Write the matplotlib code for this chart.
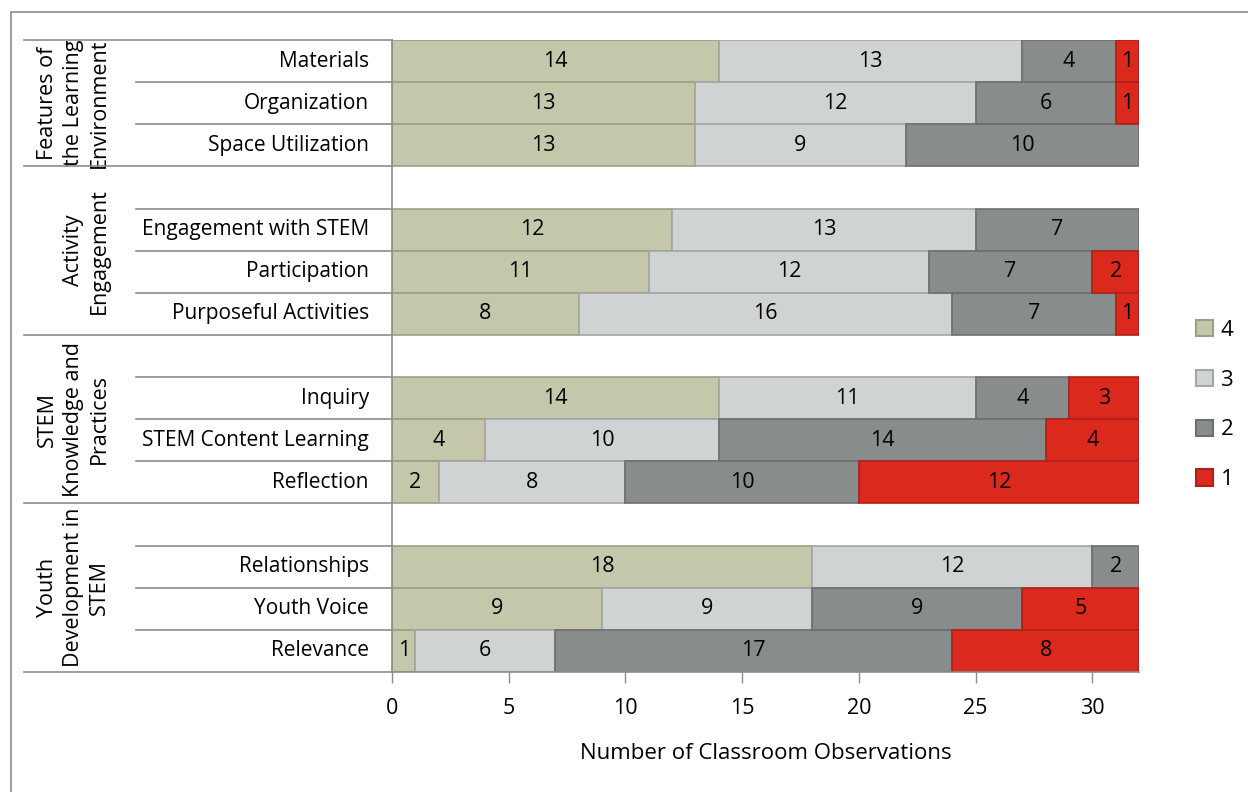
import numpy as np
import matplotlib.pyplot as plt
from matplotlib.patches import Patch, Rectangle
from matplotlib.lines import Line2D
from matplotlib.transforms import blended_transform_factory

plt.rcParams['font.family'] = ['Open Sans', 'DejaVu Sans']

# --- data (rows top to bottom) ---
group_names = ["Features of\nthe Learning\nEnvironment",
               "Activity\nEngagement",
               "STEM\nKnowledge and\nPractices",
               "Youth\nDevelopment in\nSTEM"]
group_items = [["Materials", "Organization", "Space Utilization"],
               ["Engagement with STEM", "Participation", "Purposeful Activities"],
               ["Inquiry", "STEM Content Learning", "Reflection"],
               ["Relationships", "Youth Voice", "Relevance"]]

score4 = [14, 13, 13, 12, 11, 8, 14, 4, 2, 18, 9, 1]
score3 = [13, 12, 9, 13, 12, 16, 11, 10, 8, 12, 9, 6]
score2 = [4, 6, 10, 7, 7, 7, 4, 14, 10, 2, 9, 17]
score1 = [1, 1, 0, 0, 2, 1, 3, 4, 12, 0, 5, 8]

score_labels = ["4", "3", "2", "1"]
face_colors = ["#c4c7a9", "#d0d3d4", "#898c8d", "#dc291e"]
edge_colors = ["#9c9e87", "#a3a5a6", "#6c6e6f", "#b0201a"]

# row positions: a blank row in front of every group except the first
positions, labels, group_spans = [], [], []
row = 0
for g, items in enumerate(group_items):
    start = row - 0.5
    if g > 0:
        row += 1
    for it in items:
        positions.append(row)
        labels.append(it)
        row += 1
    group_spans.append((start, row - 0.5))
n_rows = row

fig = plt.figure(figsize=(12.48, 7.92), dpi=100)
W, H = 1248, 792
ax = fig.add_axes([392 / W, 120 / H, (1139 - 392) / W, (672 - 40) / H])

series = [score4, score3, score2, score1]
left = np.zeros(len(positions))
for vals, fc, ec in zip(series, face_colors, edge_colors):
    vals = np.array(vals, dtype=float)
    for p, v, l in zip(positions, vals, left):
        if v <= 0:
            continue
        ax.barh(p, v, left=l, height=1.0, color=fc, edgecolor=ec,
                linewidth=1.2)
        ax.text(l + v / 2, p, f"{int(v)}", ha='center', va='center',
                fontsize=15.5, color='black')
    left += vals

ax.set_xlim(0, 32)
ax.set_ylim(n_rows - 0.5, -0.5)
ax.set_xticks(range(0, 31, 5))
ax.set_yticks([])
ax.tick_params(axis='x', length=8, width=1, color='#8c8c8c', labelsize=15.5,
               pad=11)
for s in ['top', 'right']:
    ax.spines[s].set_visible(False)
for s in ['left', 'bottom']:
    ax.spines[s].set_color('#8c8c8c')
    ax.spines[s].set_linewidth(1.2)
ax.set_xlabel("Number of Classroom Observations", fontsize=16, labelpad=17)

# category labels and separators on the left
tr = blended_transform_factory(fig.transFigure, ax.transData)
for p, lab in zip(positions, labels):
    ax.text(369 / W, p, lab, transform=tr, ha='right', va='center',
            fontsize=15)

row_edges = set()
for p in positions:
    row_edges.add(p - 0.5)
    row_edges.add(p + 0.5)
group_edges = set()
for g0, g1 in group_spans:
    group_edges.add(g0)
    group_edges.add(g1)
for y in sorted(row_edges | group_edges):
    x0 = 24 / W if y in group_edges else 136 / W
    fig.add_artist(Line2D([x0, 392 / W], [y, y], transform=tr,
                          color='#8c8c8c', linewidth=1.2))

for name, (g0, g1) in zip(group_names, group_spans):
    ax.text(110 / W, (g0 + g1) / 2, name, transform=tr, rotation=90,
            ha='right', va='center', multialignment='center', fontsize=15.5,
            linespacing=1.3)

# legend
handles = [Patch(facecolor=fc, edgecolor=ec, linewidth=1.5)
           for fc, ec in zip(face_colors, edge_colors)]
fig.legend(handles, score_labels, loc='center left',
           bbox_to_anchor=(1176 / W, 1 - 405 / H), frameon=False,
           fontsize=16, handlelength=0.75, handleheight=0.75,
           handletextpad=0.35, labelspacing=1.3)

# outer border
fig.add_artist(Rectangle((11 / W, -0.05), 1.2, 1 - 12 / H + 0.05,
                         transform=fig.transFigure, fill=False,
                         edgecolor='#8c8c8c', linewidth=1.2))

fig.savefig("out.png", dpi=100)
